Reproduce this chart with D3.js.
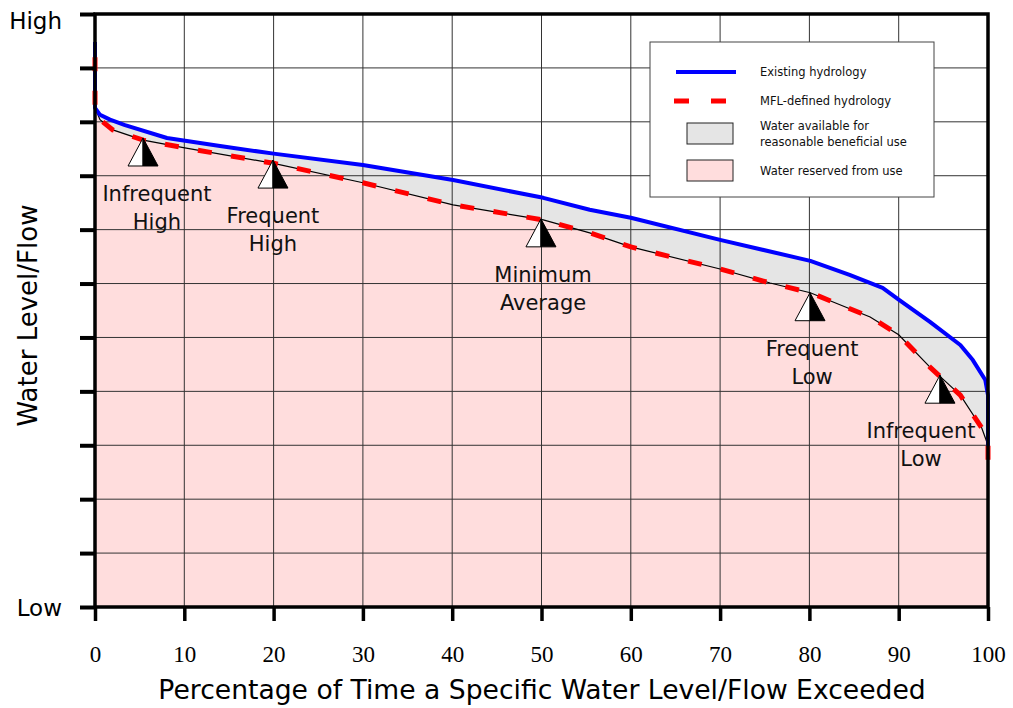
<!DOCTYPE html>
<html>
<head>
<meta charset="utf-8">
<script src="https://cdn.jsdelivr.net/npm/d3@7"></script>
<style>
  body { margin: 0; background: #fff; }
  svg { display: block; font-family: "DejaVu Sans", sans-serif; }
</style>
</head>
<body>
<svg id="chart" width="1013" height="708"></svg>
<script>
// percent of time exceeded vs relative level (0 = Low, 11 = High)
const existingHydrology = [
  [0, 10.48], [0, 9.26], [0.56, 9.13], [1.68, 9.04], [3.36, 8.94], [8.06, 8.70],
  [14.0, 8.55], [20.0, 8.41], [30.0, 8.20], [40.1, 7.92], [50.2, 7.59],
  [55.4, 7.37], [60.0, 7.22], [70.0, 6.81], [80.1, 6.42], [84.5, 6.16],
  [88.2, 5.92], [90.0, 5.70], [93.5, 5.29], [96.9, 4.86], [98.3, 4.58],
  [99.7, 4.21], [100, 3.93], [100, 2.95]
];

const mflHydrology = [
  [0, 10.20], [0, 9.26], [0.56, 9.04], [2.0, 8.85], [5.4, 8.66], [9.9, 8.52],
  [20.0, 8.23], [30.0, 7.87], [40.1, 7.46], [50.2, 7.18], [55.4, 6.94],
  [60.0, 6.68], [70.0, 6.27], [75.6, 6.01], [80.1, 5.83], [86.8, 5.38],
  [90.0, 5.05], [93.5, 4.45], [96.9, 3.93], [99.3, 3.32], [100, 3.0], [100, 2.73]
];

const markerNames = [["Infrequent", "High"], ["Frequent", "High"], ["Minimum", "Average"], ["Frequent", "Low"], ["Infrequent", "Low"]];
const markerPct = [5.38, 19.93, 49.94, 80.07, 94.62];
const markerLevel = [8.70, 8.29, 7.20, 5.83, 4.30];
const labelPct = [6.94, 19.93, 50.17, 80.3, 92.5];

const xTicks = [0, 10, 20, 30, 40, 50, 60, 70, 80, 90, 100];
const yLevels = d3.range(0, 12);

const legendItems = [
  { type: "line", text: ["Existing hydrology"] },
  { type: "dash", text: ["MFL-defined hydrology"] },
  { type: "gray", text: ["Water available for", "reasonable beneficial use"] },
  { type: "pink", text: ["Water reserved from use"] }
];

const margin = { left: 95, right: 25, top: 14, bottom: 101 };
const width = 1013, height = 708;
const svg = d3.select("#chart");

const x = d3.scaleLinear().domain([0, 100]).range([margin.left, width - margin.right]);
const y = d3.scaleLinear().domain([0, 11]).range([height - margin.bottom, margin.top]);

const BLUE = "#0000ff", RED = "#ff0000", PINK = "#ffdddd", GRAY = "#e5e5e5";

// thin black edge of the reserved water
const boundary = mflHydrology.slice(1, -1);

// fills
svg.append("path")
  .datum(boundary)
  .attr("fill", PINK)
  .attr("d", d3.area().x(d => x(d[0])).y0(y(0)).y1(d => y(d[1])));

const grayPoly = existingHydrology.slice(1).concat(boundary.slice().reverse());
svg.append("path")
  .datum(grayPoly)
  .attr("fill", GRAY)
  .attr("d", d3.line().x(d => x(d[0])).y(d => y(d[1])));

// grid
svg.append("g")
  .selectAll("line")
  .data(xTicks.slice(1, -1))
  .join("line")
  .attr("x1", d => x(d)).attr("x2", d => x(d))
  .attr("y1", y(0)).attr("y2", y(11))
  .attr("stroke", "#333").attr("stroke-width", 1);

svg.append("g")
  .selectAll("line")
  .data(yLevels.slice(1, -1))
  .join("line")
  .attr("x1", x(0)).attr("x2", x(100))
  .attr("y1", d => y(d)).attr("y2", d => y(d))
  .attr("stroke", "#333").attr("stroke-width", 1);

// curves
const line = d3.line().x(d => x(d[0])).y(d => y(d[1]));

svg.append("path")
  .datum(boundary)
  .attr("fill", "none").attr("stroke", "#000").attr("stroke-width", 1.2)
  .attr("d", line);

svg.append("path")
  .datum(existingHydrology)
  .attr("fill", "none").attr("stroke", BLUE).attr("stroke-width", 4)
  .attr("stroke-linejoin", "round")
  .attr("d", line);

const mflPath = svg.append("path")
  .datum(mflHydrology)
  .attr("fill", "none").attr("stroke", RED).attr("stroke-width", 5)
  .attr("d", line);
// stretch the gap a little so the dashes start and end on a dash
const dash = 14;
const mflLen = mflPath.node().getTotalLength();
const nDash = Math.round((mflLen - dash) / 34);
mflPath.attr("stroke-dasharray", `${dash},${(mflLen - dash) / nDash - dash}`);

// markers
const markers = markerNames.map((n, i) => ({ name: n, pct: markerPct[i], level: markerLevel[i], at: labelPct[i] }));
const mk = svg.append("g").selectAll("g").data(markers).join("g")
  .attr("transform", d => `translate(${x(d.pct)},${y(d.level)})`);

mk.append("path")
  .attr("d", "M0,0 L-15,28 L0,28 Z")
  .attr("fill", "#fff").attr("stroke", "#000").attr("stroke-width", 1);
mk.append("path")
  .attr("d", "M0,0 L15,28 L0,28 Z")
  .attr("fill", "#000").attr("stroke", "#000").attr("stroke-width", 1);

const lbl = svg.append("g").selectAll("text").data(markers).join("text")
  .attr("x", d => x(d.at))
  .attr("y", d => y(d.level) + 63)
  .attr("text-anchor", "middle")
  .attr("font-size", 21)
  .attr("fill", "#111");
lbl.selectAll("tspan").data(d => d.name).join("tspan")
  .attr("x", function() { return d3.select(this.parentNode).attr("x"); })
  .attr("dy", (d, i) => i === 0 ? 0 : 28)
  .text(d => d);

// frame
svg.append("rect")
  .attr("x", x(0)).attr("y", y(11))
  .attr("width", x(100) - x(0)).attr("height", y(0) - y(11))
  .attr("fill", "none").attr("stroke", "#000").attr("stroke-width", 3.5);

// axes
const yAxis = svg.append("g")
  .attr("transform", `translate(${x(0)},0)`)
  .call(d3.axisLeft(y).tickValues(yLevels).tickSize(15).tickFormat(""));
yAxis.select(".domain").remove();
yAxis.selectAll(".tick line").attr("stroke", "#000").attr("stroke-width", 4);

const xAxis = svg.append("g")
  .attr("transform", `translate(0,${y(0)})`)
  .call(d3.axisBottom(x).tickValues(xTicks).tickSize(14).tickPadding(25).tickFormat(d3.format("d")));
xAxis.select(".domain").remove();
xAxis.selectAll(".tick line").attr("stroke", "#000").attr("stroke-width", 3.5);
xAxis.selectAll(".tick text")
  .attr("font-family", "'Liberation Serif', 'DejaVu Serif', serif")
  .attr("font-size", 23)
  .attr("fill", "#000");

svg.append("text").attr("x", 62).attr("y", y(11) + 15)
  .attr("text-anchor", "end").attr("font-size", 23).text("High");
svg.append("text").attr("x", 62).attr("y", y(0) + 9)
  .attr("text-anchor", "end").attr("font-size", 23).text("Low");

svg.append("text")
  .attr("transform", `translate(37,${(y(0) + y(11)) / 2 + 5}) rotate(-90)`)
  .attr("text-anchor", "middle").attr("font-size", 26)
  .text("Water Level/Flow");

svg.append("text")
  .attr("x", 542).attr("y", 699)
  .attr("text-anchor", "middle").attr("font-size", 26.6)
  .text("Percentage of Time a Specific Water Level/Flow Exceeded");

// legend
const lg = svg.append("g").attr("transform", "translate(650,42)");
lg.append("rect").attr("width", 284).attr("height", 155)
  .attr("fill", "#fff").attr("stroke", "#444").attr("stroke-width", 1);

const rowY = [30, 59, 92, 129];
legendItems.forEach((it, i) => {
  const g = lg.append("g").attr("transform", `translate(0,${rowY[i]})`);
  if (it.type === "line") {
    g.append("line").attr("x1", 26).attr("x2", 86).attr("y1", 0).attr("y2", 0)
      .attr("stroke", BLUE).attr("stroke-width", 4);
  } else if (it.type === "dash") {
    g.append("line").attr("x1", 24).attr("x2", 78).attr("y1", 0).attr("y2", 0)
      .attr("stroke", RED).attr("stroke-width", 5).attr("stroke-dasharray", "15,22");
  } else {
    g.append("rect").attr("x", 37).attr("y", -11).attr("width", 46).attr("height", 21)
      .attr("fill", it.type === "gray" ? GRAY : PINK)
      .attr("stroke", "#222").attr("stroke-width", 1);
  }
  const t = g.append("text").attr("font-size", 11.5).attr("fill", "#111");
  const n = it.text.length;
  it.text.forEach((s, j) => {
    t.append("tspan").attr("x", 110).attr("y", (j - (n - 1) / 2) * 16 + 4).text(s);
  });
});
</script>
</body>
</html>
